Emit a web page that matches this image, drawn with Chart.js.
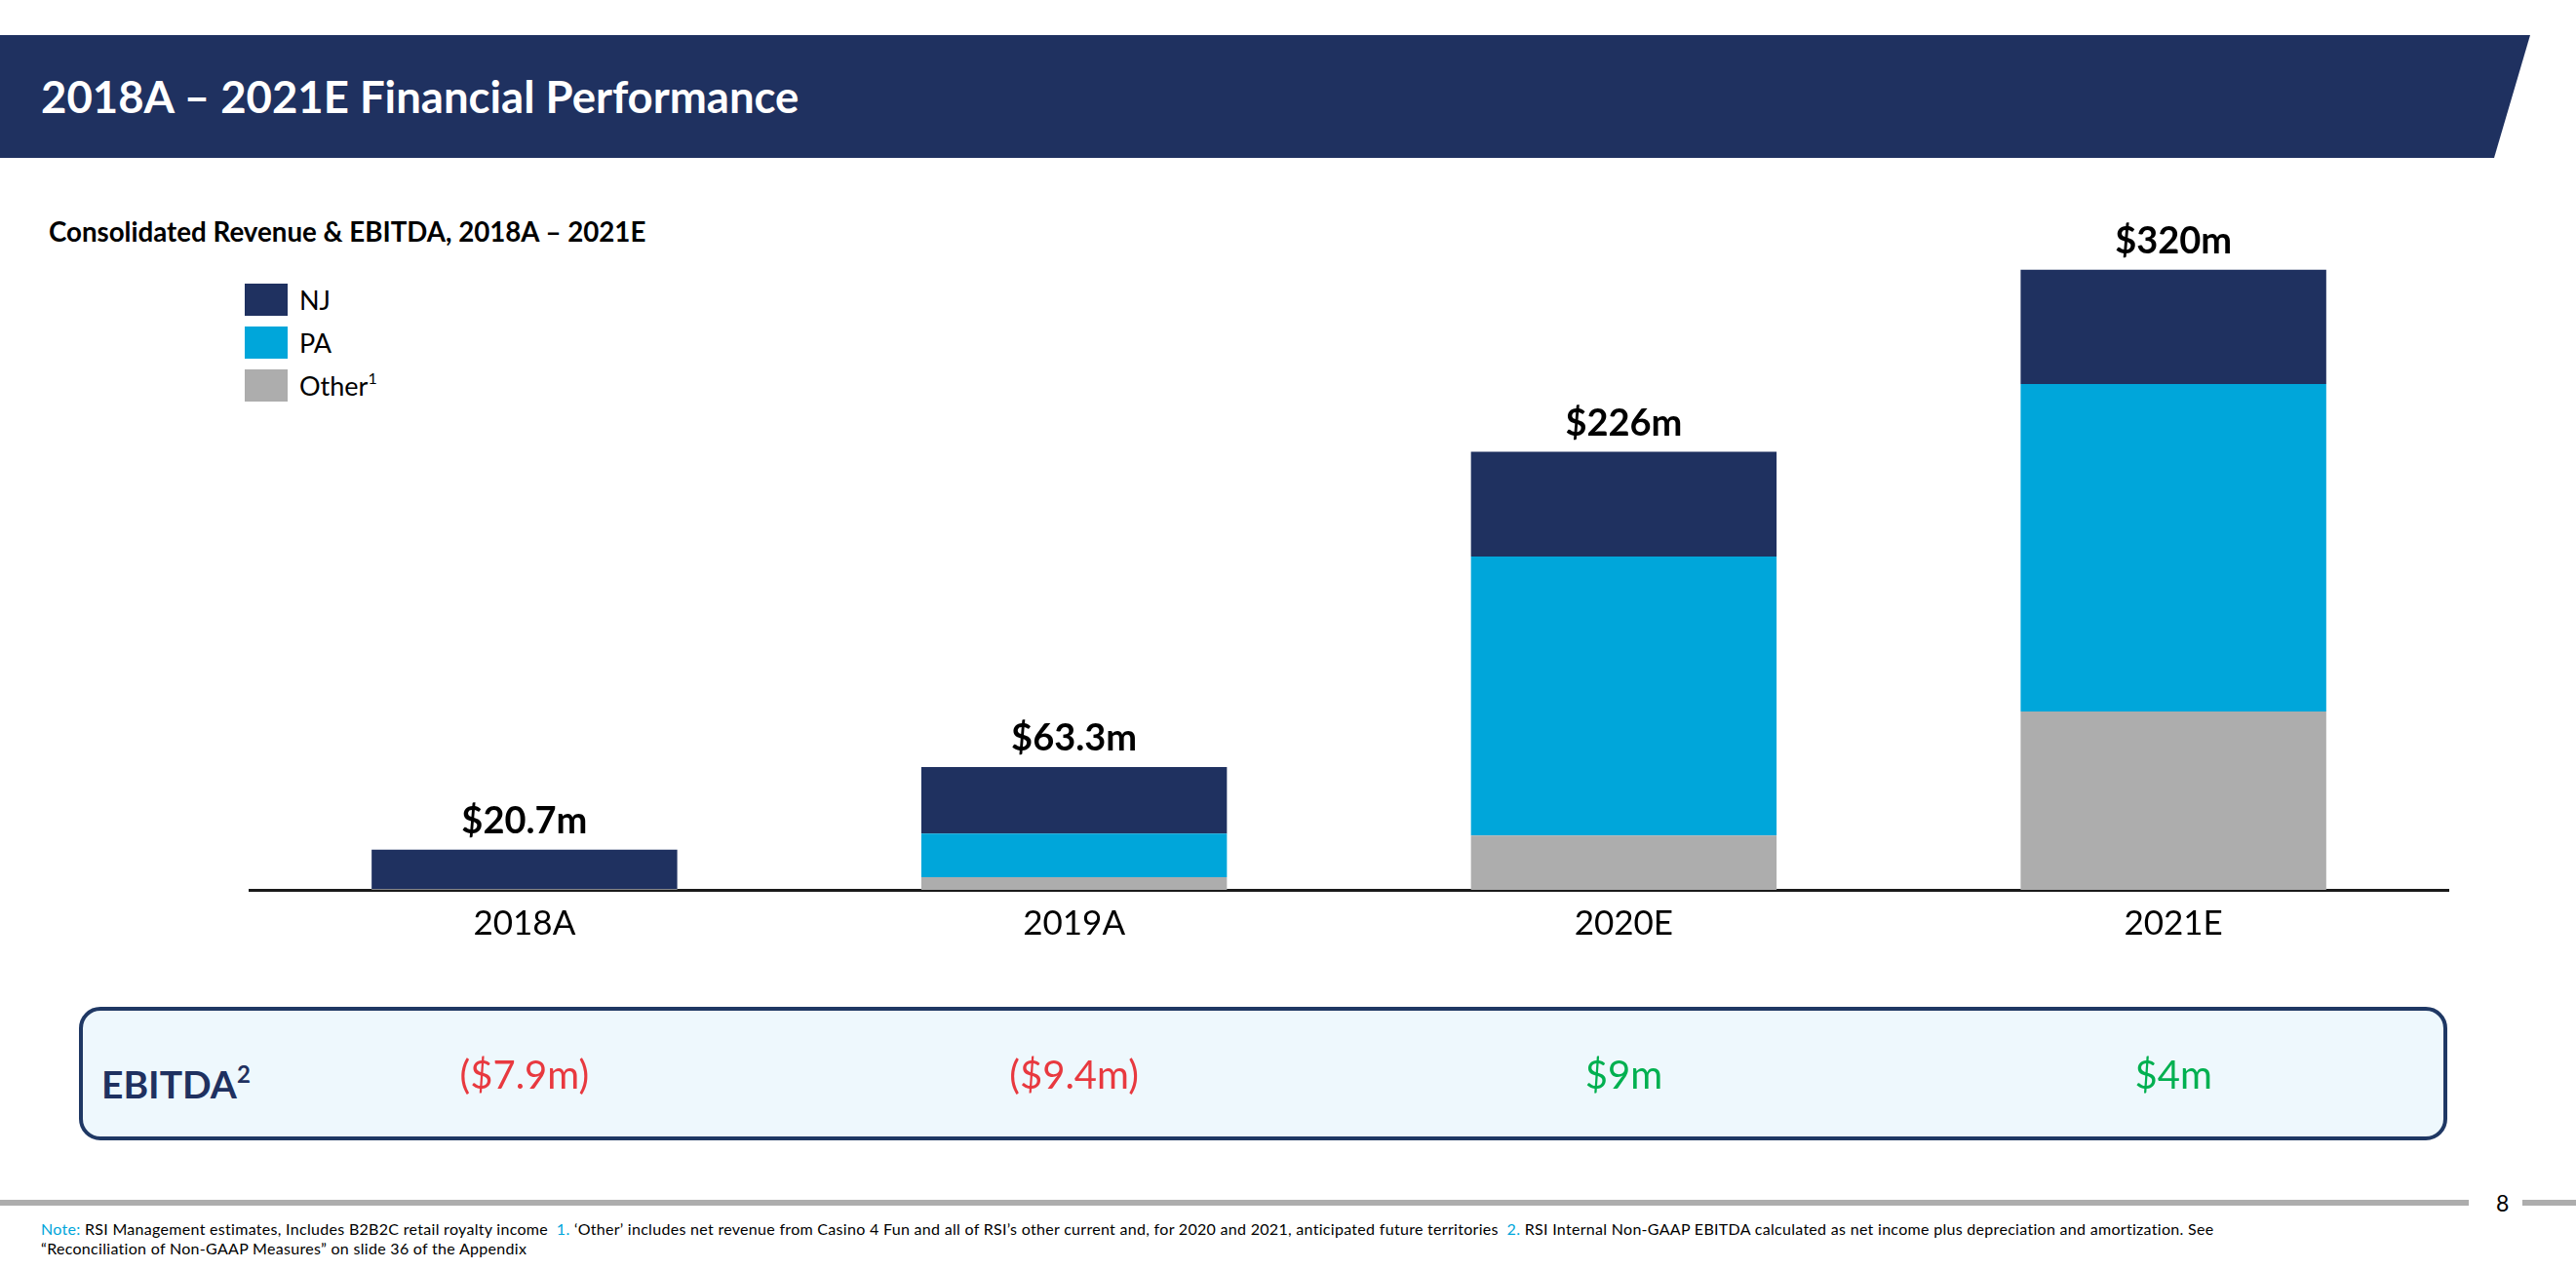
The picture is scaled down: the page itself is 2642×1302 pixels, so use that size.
<!DOCTYPE html>
<html>
<head>
<meta charset="utf-8">
<script src="https://cdn.jsdelivr.net/npm/chart.js@4.4.1/dist/chart.umd.min.js"></script>
<style>
  html, body { margin: 0; padding: 0; background: #fff; }
  body { width: 2642px; height: 1302px; position: relative; overflow: hidden; font-family: Lato, "Open Sans", sans-serif; }
  .header-band {
    position: absolute; left: 0; top: 36px; width: 2600px; height: 126px;
    background: #1f3160;
    clip-path: polygon(0 0, 2595px 0, 2558px 126px, 0 126px);
  }
  .header-band h1 {
    position: absolute; left: 42px; top: 0; height: 126px; line-height: 126px; margin: 0;
    color: #fff; font-size: 45.5px; font-weight: 700;
  }
  .subtitle { position: absolute; left: 50px; top: 221px; font-size: 27.7px; font-weight: 700; color: #000; }
  .legend { position: absolute; left: 251px; top: 285px; }
  .legend-row { display: flex; align-items: center; height: 44px; font-size: 27px; color: #000; }
  .legend-row i { display: inline-block; width: 44px; height: 33px; margin-right: 12px; }
  .legend-row sup { font-size: 16px; vertical-align: 12px; }
  .ebitda-box {
    position: absolute; left: 81px; top: 1033px; width: 2421px; height: 129px;
    border: 4px solid #1f3864; border-radius: 22px; background: #eef8fd;
  }
  .ebitda-box .lbl {
    position: absolute; left: 19px; top: 0; line-height: 129px; font-size: 39px; font-weight: 700; color: #1f3160;
  }
  .ebitda-box .lbl sup { font-size: 24px; vertical-align: 16px; }
  .foot-rule { position: absolute; left: 0; top: 1231px; width: 2532px; height: 6px; background: #adadad; }
  .foot-rule2 { position: absolute; left: 2587px; top: 1231px; width: 55px; height: 6px; background: #adadad; }
  .page-no { position: absolute; left: 2560px; top: 1220px; font-size: 23px; color: #000; }
  .note { position: absolute; left: 42px; top: 1251px; width: 2550px; font-size: 16px; line-height: 20px; letter-spacing: 0.3px; color: #000; }
  .note b { font-weight: 400; color: #00a6da; }
  #wrap { position: absolute; left: 0; top: 0; width: 2642px; height: 1302px; pointer-events: none; }
</style>
</head>
<body>
<div class="header-band"><h1>2018A – 2021E Financial Performance</h1></div>
<div class="subtitle">Consolidated Revenue &amp; EBITDA, 2018A – 2021E</div>
<div class="legend" id="legend"></div>
<div class="ebitda-box"><div class="lbl">EBITDA<sup>2</sup></div></div>
<div class="foot-rule"></div><div class="foot-rule2"></div>
<div class="page-no">8</div>
<div class="note"><b>Note:</b> RSI Management estimates, Includes B2B2C retail royalty income &nbsp;<b>1.</b> ‘Other’ includes net revenue from Casino 4 Fun and all of RSI’s other current and, for 2020 and 2021, anticipated future territories &nbsp;<b>2.</b> RSI Internal Non-GAAP EBITDA calculated as net income plus depreciation and amortization. See<br>“Reconciliation of Non-GAAP Measures” on slide 36 of the Appendix</div>
<div id="wrap"><canvas id="revChart"></canvas></div>

<script>
// data ($m)
const years = ['2018A', '2019A', '2020E', '2021E'];
const njRevenue = [20.3, 34.2, 54, 59];
const paRevenue = [0, 22.6, 144, 169];
const otherRevenue = [0.4, 6.5, 28, 92];
const totalRevenue = [20.7, 63.3, 226, 320];
const ebitda = [-7.9, -9.4, 9, 4];

const NAVY = '#1f3160';
const CYAN = '#00a6da';
const GREY = '#adadad';

const legendItems = [
  { name: 'NJ', color: NAVY },
  { name: 'PA', color: CYAN },
  { name: 'Other<sup>1</sup>', color: GREY },
];

document.getElementById('legend').innerHTML = legendItems
  .map((it) => `<div class="legend-row"><i style="background:${it.color}"></i><span>${it.name}</span></div>`)
  .join('');

const fmtTotal = (v) => `$${v}m`;
const fmtEbitda = (v) => (v < 0 ? `($${Math.abs(v)}m)` : `$${v}m`);

// totals above bars and EBITDA figures in the box, both placed from the x/y scales
const labelsPlugin = {
  id: 'slideLabels',
  afterDatasetsDraw(chart) {
    const { ctx, scales: { x, y } } = chart;
    ctx.save();
    ctx.textAlign = 'center';
    ctx.textBaseline = 'middle';
    totalRevenue.forEach((t, i) => {
      ctx.font = '700 38px Lato';
      ctx.fillStyle = '#000';
      ctx.fillText(fmtTotal(t), x.getPixelForValue(i), y.getPixelForValue(t) - 29);
    });
    ebitda.forEach((v, i) => {
      ctx.font = '400 40px Lato';
      ctx.fillStyle = v < 0 ? '#e8393f' : '#00b050';
      ctx.fillText(fmtEbitda(v), x.getPixelForValue(i), 1104);
    });
    ctx.restore();
  },
};

function draw() {
  const canvas = document.getElementById('revChart');
  const bar = { barPercentage: 0.556, categoryPercentage: 1, borderWidth: 0 };
  new Chart(canvas, {
    type: 'bar',
    data: {
      labels: years,
      datasets: [
        { label: 'Other', data: otherRevenue, backgroundColor: GREY, ...bar },
        { label: 'PA', data: paRevenue, backgroundColor: CYAN, ...bar },
        { label: 'NJ', data: njRevenue, backgroundColor: NAVY, ...bar },
      ],
    },
    options: {
      responsive: true,
      maintainAspectRatio: false,
      animation: false,
      events: [],
      layout: { padding: { left: 256, right: 131, top: 217, bottom: 329 } },
      plugins: { legend: { display: false }, tooltip: { enabled: false } },
      scales: {
        x: {
          stacked: true,
          grid: { display: false, drawTicks: false },
          border: { display: true, color: '#1a1a1a', width: 3 },
          ticks: { color: '#000', font: { family: 'Lato', size: 35 }, padding: 14 },
          afterFit: (scale) => { scale.height = 60; },
        },
        y: {
          stacked: true,
          display: false,
          min: 0,
          max: 350,
        },
      },
    },
    plugins: [labelsPlugin],
  });
}

if (document.fonts && document.fonts.load) {
  Promise.all([document.fonts.load('700 38px Lato'), document.fonts.load('400 40px Lato')]).then(draw, draw);
} else {
  draw();
}
</script>
</body>
</html>
